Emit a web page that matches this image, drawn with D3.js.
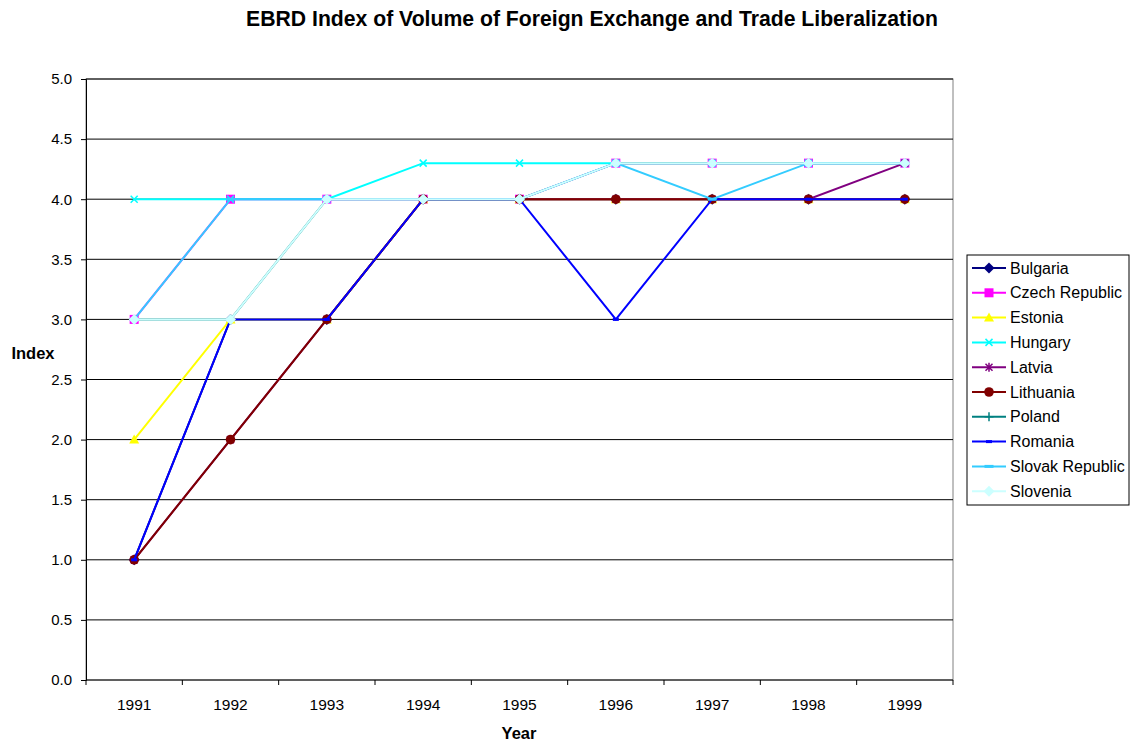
<!DOCTYPE html>
<html>
<head>
<meta charset="utf-8">
<script src="https://cdn.jsdelivr.net/npm/d3@7"></script>
<style>
  body { margin: 0; background: #fff; }
  text { font-family: "Liberation Sans", Arial, sans-serif; }
</style>
</head>
<body>
<script>
// chart data
var years = ["1991","1992","1993","1994","1995","1996","1997","1998","1999"];
var countries = ["Bulgaria","Czech Republic","Estonia","Hungary","Latvia","Lithuania","Poland","Romania","Slovak Republic","Slovenia"];
var bulgaria   = [1, 3, 3, 4, 4, 4, 4, 4, 4];
var czech      = [3, 4, 4, 4, 4, 4.3, 4.3, 4.3, 4.3];
var estonia    = [2, 3, 3, 4, 4, 4, 4, 4, 4];
var hungary    = [4, 4, 4, 4.3, 4.3, 4.3, 4.3, 4.3, 4.3];
var latvia     = [1, 2, 3, 4, 4, 4, 4, 4, 4.3];
var lithuania  = [1, 2, 3, 4, 4, 4, 4, 4, 4];
var poland     = [3, 3, 4, 4, 4, 4.3, 4.3, 4.3, 4.3];
var romania    = [1, 3, 3, 4, 4, 3, 4, 4, 4];
var slovak     = [3, 4, 4, 4, 4, 4.3, 4, 4.3, 4.3];
var slovenia   = [3, 3, 4, 4, 4, 4.3, 4.3, 4.3, 4.3];
var yTicks = [0, 0.5, 1, 1.5, 2, 2.5, 3, 3.5, 4, 4.5, 5];

var seriesValues = [bulgaria, czech, estonia, hungary, latvia, lithuania, poland, romania, slovak, slovenia];
var colors = ["#000080","#ff00ff","#ffff00","#00ffff","#800080","#800000","#008080","#0000ff","#33ccff","#ccffff"];
var shapes = ["diamond","square","triangle","x","star","circle","plus","dash","longdash","diamond"];

var width = 1133, height = 742;
var margin = {left: 86, right: 180, top: 79, bottom: 62};

var svg = d3.select("body").append("svg")
  .attr("width", width)
  .attr("height", height);

var x = d3.scaleBand().domain(years).range([margin.left, width - margin.right]);
var y = d3.scaleLinear().domain([0, 5]).range([height - margin.bottom, margin.top]);

// title
svg.append("text")
  .attr("x", 592).attr("y", 26)
  .attr("text-anchor", "middle")
  .style("font-size", "21.2px").style("font-weight", "bold")
  .text("EBRD Index of Volume of Foreign Exchange and Trade Liberalization");

// plot area border
svg.append("rect")
  .attr("x", margin.left).attr("y", margin.top)
  .attr("width", width - margin.right - margin.left)
  .attr("height", y(0) - margin.top)
  .attr("fill", "none").attr("stroke", "#808080");

// gridlines
svg.append("g").selectAll("line").data(yTicks.slice(1)).join("line")
  .attr("x1", margin.left).attr("x2", width - margin.right)
  .attr("y1", d => y(d)).attr("y2", d => y(d))
  .attr("stroke", "#000").attr("stroke-width", 1);

// y axis
var yAxis = svg.append("g")
  .attr("transform", "translate(" + margin.left + ",0)")
  .call(d3.axisLeft(y).tickValues(yTicks).tickFormat(d3.format(".1f")).tickSize(5).tickPadding(9));
yAxis.selectAll("text").style("font-size", "15px").attr("fill", "#000");
yAxis.select(".domain").attr("stroke", "#000");

// x axis - ticks between categories
var xg = svg.append("g").attr("transform", "translate(0," + y(0) + ")");
xg.append("line").attr("x1", margin.left).attr("x2", width - margin.right).attr("stroke", "#000");
var bounds = years.map(d => x(d)).concat([x(years[years.length - 1]) + x.bandwidth()]);
xg.selectAll(".tk").data(bounds).join("line")
  .attr("x1", d => d).attr("x2", d => d).attr("y1", 0).attr("y2", 5)
  .attr("stroke", "#000");
xg.selectAll(".lbl").data(years).join("text")
  .attr("x", d => x(d) + x.bandwidth() / 2).attr("y", 30)
  .attr("text-anchor", "middle").style("font-size", "15.5px")
  .text(d => d);

// axis titles
svg.append("text").attr("x", 519).attr("y", 739)
  .attr("text-anchor", "middle").style("font-size", "16.5px").style("font-weight", "bold").text("Year");
svg.append("text").attr("x", 33).attr("y", 359)
  .attr("text-anchor", "middle").style("font-size", "16.5px").style("font-weight", "bold").text("Index");

function drawMarker(g, shape, color, cx, cy) {
  var s = 5.5;
  if (shape == "diamond") {
    g.append("path").attr("d", "M" + cx + "," + (cy - s) + "L" + (cx + s) + "," + cy + "L" + cx + "," + (cy + s) + "L" + (cx - s) + "," + cy + "Z")
      .attr("fill", color);
  } else if (shape == "square") {
    g.append("rect").attr("x", cx - 4.5).attr("y", cy - 4.5).attr("width", 9).attr("height", 9).attr("fill", color);
  } else if (shape == "triangle") {
    g.append("path").attr("d", "M" + cx + "," + (cy - 5) + "L" + (cx + 5) + "," + (cy + 4) + "L" + (cx - 5) + "," + (cy + 4) + "Z")
      .attr("fill", color);
  } else if (shape == "x") {
    g.append("path").attr("d", "M" + (cx - 3.5) + "," + (cy - 3.5) + "L" + (cx + 3.5) + "," + (cy + 3.5) + "M" + (cx + 3.5) + "," + (cy - 3.5) + "L" + (cx - 3.5) + "," + (cy + 3.5))
      .attr("stroke", color).attr("stroke-width", 1.5);
  } else if (shape == "star") {
    g.append("path").attr("d", "M" + (cx - 3.5) + "," + (cy - 3.5) + "L" + (cx + 3.5) + "," + (cy + 3.5) + "M" + (cx + 3.5) + "," + (cy - 3.5) + "L" + (cx - 3.5) + "," + (cy + 3.5) + "M" + cx + "," + (cy - 4.5) + "L" + cx + "," + (cy + 4.5))
      .attr("stroke", color).attr("stroke-width", 1.5);
  } else if (shape == "circle") {
    g.append("circle").attr("cx", cx).attr("cy", cy).attr("r", 4.8).attr("fill", color);
  } else if (shape == "plus") {
    g.append("path").attr("d", "M" + (cx - 4.5) + "," + cy + "L" + (cx + 4.5) + "," + cy + "M" + cx + "," + (cy - 4.5) + "L" + cx + "," + (cy + 4.5))
      .attr("stroke", color).attr("stroke-width", 1.5);
  } else if (shape == "dash") {
    g.append("rect").attr("x", cx - 3).attr("y", cy - 1.5).attr("width", 6).attr("height", 3).attr("fill", color);
  } else if (shape == "longdash") {
    g.append("rect").attr("x", cx - 4.5).attr("y", cy - 1.5).attr("width", 9).attr("height", 3).attr("fill", color);
  }
}

var line = d3.line()
  .x((d, i) => x(years[i]) + x.bandwidth() / 2)
  .y(d => y(d));

// series, drawn in order so later ones sit on top
seriesValues.forEach(function(vals, k) {
  var g = svg.append("g");
  g.append("path").attr("d", line(vals))
    .attr("fill", "none").attr("stroke", colors[k]).attr("stroke-width", 2);
  vals.forEach(function(v, i) {
    drawMarker(g, shapes[k], colors[k], x(years[i]) + x.bandwidth() / 2, y(v));
  });
});

// legend
var lg = svg.append("g");
lg.append("rect").attr("x", 967).attr("y", 255).attr("width", 162).attr("height", 250)
  .attr("fill", "#fff").attr("stroke", "#000");
countries.forEach(function(c, k) {
  var ly = 268 + k * 24.8;
  lg.append("line").attr("x1", 972).attr("x2", 1006).attr("y1", ly).attr("y2", ly)
    .attr("stroke", colors[k]).attr("stroke-width", 2);
  drawMarker(lg, shapes[k], colors[k], 989, ly);
  lg.append("text").attr("x", 1010).attr("y", ly + 5.5).style("font-size", "16px").text(c);
});
</script>
</body>
</html>
